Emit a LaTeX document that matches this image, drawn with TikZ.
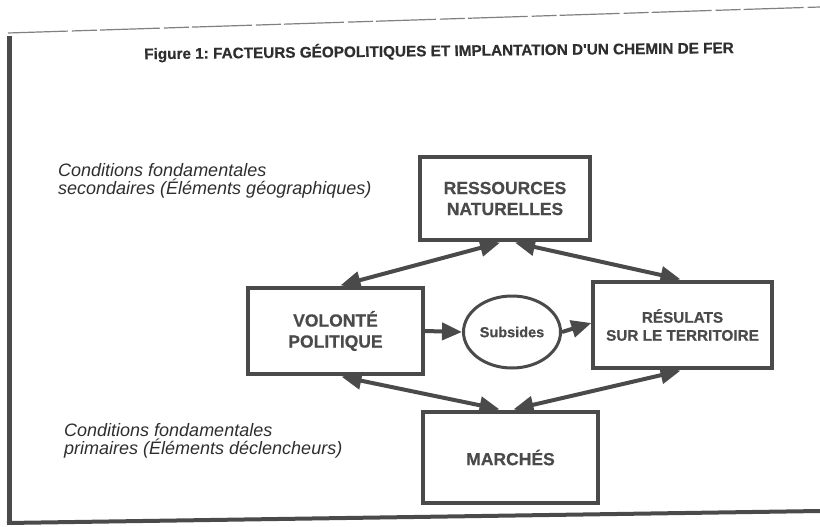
\documentclass[tikz,border=0pt]{standalone}
\usepackage{fontspec}
\setmainfont{Liberation Sans}
\newfontfamily\heavy[FakeBold=0.6]{Liberation Sans Bold}
\usetikzlibrary{arrows.meta,shapes.geometric,calc}
\frenchspacing
\definecolor{ink}{HTML}{4A4A4A}
\definecolor{txt}{HTML}{2E2E2E}
\tikzset{
  boxnode/.style={draw=ink,line width=3.3pt,rectangle,inner sep=0pt,align=center,
    text=ink,font=\heavy\fontsize{17.5}{21}\selectfont},
  ovalnode/.style={draw=ink,line width=3pt,ellipse,inner sep=0pt,
    text=ink,font=\heavy\fontsize{14.5}{17}\selectfont},
  link/.style={draw=ink,line width=4pt,{Triangle[length=20pt,width=17pt]}-{Triangle[length=20pt,width=17pt]}},
  onelink/.style={draw=ink,line width=4pt,-{Triangle[length=20pt,width=17pt]}},
  sidetext/.style={anchor=north west,align=left,inner sep=0pt,text=txt,
    font=\itshape\fontsize{18}{18.5}\selectfont},
  frame/.style={draw=ink}
}
\begin{document}
\begin{tikzpicture}[x=1pt,y=-1pt]
\useasboundingbox (0,0) rectangle (820,527);
% frame
\draw[frame,line width=1.2pt,draw=ink!70,dash pattern=on 60pt off 4pt on 25pt off 3pt] (8,33) -- (820,7);
\draw[frame,line width=5pt] (9,36) -- (9,523);
\draw[frame,line width=4pt] (7,523) -- (820,511);
% title
\node[rotate=0.6,text=txt,font=\heavy\fontsize{15.3}{18}\selectfont,inner sep=0pt] (title) at (439,51)
  {Figure 1: FACTEURS GÉOPOLITIQUES ET IMPLANTATION D'UN CHEMIN DE FER};
% side texts
\node[sidetext] (sec) at (58,163) {Conditions fondamentales\\secondaires (Éléments géographiques)};
\node[sidetext] (pri) at (64,423) {Conditions fondamentales\\primaires (Éléments déclencheurs)};
% boxes
\node[boxnode,minimum width=170pt,minimum height=83pt] (RN) at (505,198.5) {RESSOURCES\\NATURELLES};
\node[boxnode,minimum width=175pt,minimum height=86pt] (VP) at (335.5,331) {VOLONTÉ\\POLITIQUE};
\node[ovalnode,minimum width=97pt,minimum height=72pt] (SUB) at (512,332) {Subsides};
\node[boxnode,minimum width=179pt,minimum height=86pt,font=\heavy\fontsize{15.3}{18}\selectfont] (RT) at (682.5,325) {RÉSULATS\\SUR LE TERRITOIRE};
\node[boxnode,minimum width=175pt,minimum height=91pt] (MA) at (510.5,457.5) {MARCHÉS};
% connectors
\draw[link] ([xshift=-5pt,yshift=-1pt]RN.south) -- ([xshift=5pt,yshift=1pt]VP.north);
\draw[link] ([xshift=10pt,yshift=-1pt]RN.south) -- ([xshift=-2pt,yshift=1pt]RT.north);
\draw[link] ([xshift=6pt,yshift=-1pt]VP.south) -- ([xshift=-11pt,yshift=1pt]MA.north);
\draw[link] ([xshift=3pt,yshift=1pt]MA.north) -- ([xshift=-2pt,yshift=-1pt]RT.south);
\draw[onelink] (VP.east) -- (SUB.west);
\draw[onelink] (SUB.east) -- ([yshift=2pt]RT.west);
\end{tikzpicture}
\end{document}
